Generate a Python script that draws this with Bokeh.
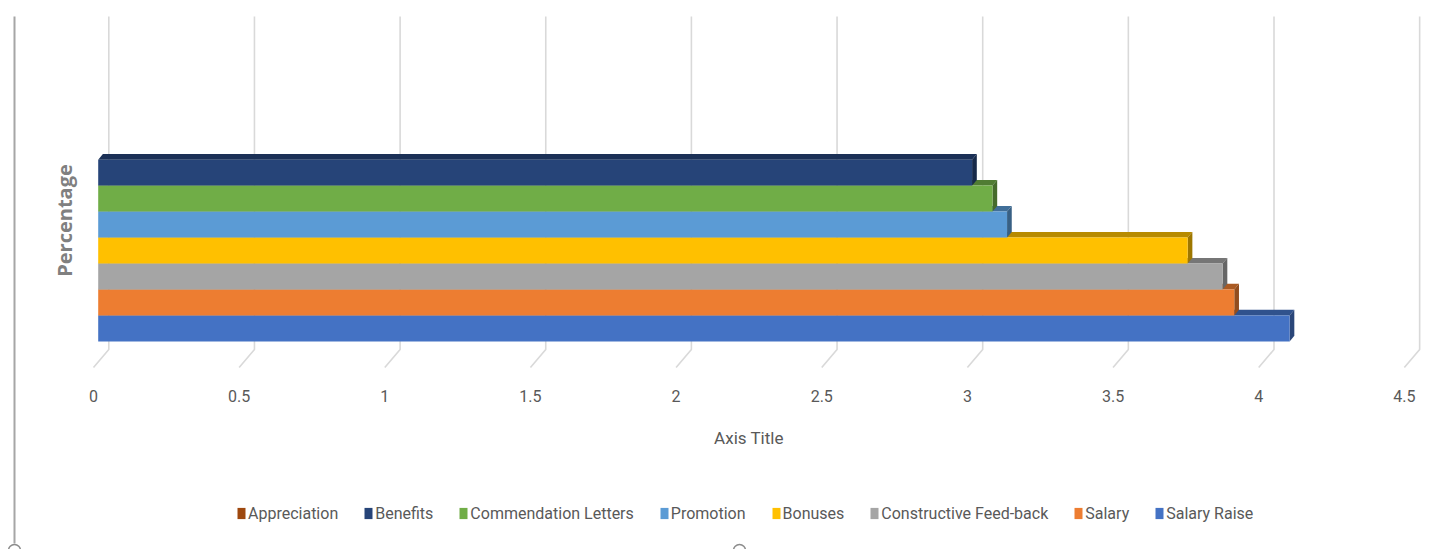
import math
from bokeh.plotting import figure
from bokeh.models import Range1d, Legend, LegendItem
from bokeh.core.properties import value
from bokeh.embed import file_html
from bokeh.resources import INLINE

# ---------------- data ----------------
series = ["Appreciation", "Benefits", "Commendation Letters", "Promotion",
          "Bonuses", "Constructive Feed-back", "Salary", "Salary Raise"]
values = [0.0, 3.00, 3.07, 3.12, 3.74, 3.86, 3.90, 4.09]
colors = ["#9E480E", "#264478", "#70AD47", "#5B9BD5",
          "#FFC000", "#A5A5A5", "#ED7D31", "#4472C4"]
ticks = [0, 0.5, 1, 1.5, 2, 2.5, 3, 3.5, 4, 4.5]
tick_labels = ["0", "0.5", "1", "1.5", "2", "2.5", "3", "3.5", "4", "4.5"]
x_title = "Axis Title"
y_title = "Percentage"

# ---------------- layout (pixels) ----------------
W, H = 1456, 549
PX_PER_UNIT = 291.3       # horizontal pixels per value unit
ZERO_PX = 97.7            # left edge of the bars' front face
ROW_PX = 25.96            # bar thickness
ROW0_PX = 327.9           # centre of the lowest bar (from top)

def dx(px):
    return px / PX_PER_UNIT

def dy(px):
    return px / ROW_PX

def xat(px):
    return (px - ZERO_PX) / PX_PER_UNIT

def yat(py):
    return (ROW0_PX - py) / ROW_PX

def shade(hex_color, f=0.75):
    h = hex_color.lstrip("#")
    r, g, b = (int(h[i:i + 2], 16) for i in (0, 2, 4))
    return "#%02x%02x%02x" % (int(r * f), int(g * f), int(b * f))

FONT_NAME = "Roboto"
FONT = value(FONT_NAME)
TEXT_COLOR = "#595959"

p = figure(width=W, height=H,
           x_range=Range1d(xat(0), xat(W)),
           y_range=Range1d(yat(H), yat(0)),
           output_backend="svg", toolbar_location=None,
           min_border=0, outline_line_color=None,
           background_fill_color="white", border_fill_color="white")
p.xaxis.visible = False
p.yaxis.visible = False
p.xgrid.visible = False
p.ygrid.visible = False

# ---------------- 3-D floor gridlines ----------------
FRONT_OFF = dx(93 - ZERO_PX)
BACK_OFF = dx(108.3 - ZERO_PX)
gx, gy = [], []
for t in ticks:
    gx.append([t + FRONT_OFF, t + BACK_OFF, t + BACK_OFF])
    gy.append([yat(367), yat(349), yat(16)])
p.multi_line(gx, gy, line_color="#D9D9D9", line_width=1.6)

# chart border line on the left + selection handles
p.segment(x0=[xat(14)], y0=[yat(16)], x1=[xat(14)], y1=[yat(543)],
          line_color="#A6A6A6", line_width=2)
p.scatter(x=[xat(14), xat(739)], y=[yat(550), yat(550)], size=12,
          fill_color="white", line_color="#8C8C8C", line_width=1.5)

# ---------------- bars ----------------
n = len(series)
rows = [n - 1 - k for k in range(n)]   # Salary Raise at the bottom
DEPTH_X = dx(4.7)
DEPTH_Y = dy(5.6)
renderers = {}
for k in sorted(range(n), key=lambda k: rows[k]):
    v = values[k]
    r = rows[k]
    c = colors[k]
    if v > 0:
        top_y = r + 0.5
        bot_y = r - 0.5
        xs = [[0, DEPTH_X, v + DEPTH_X, v],
              [v, v, v + DEPTH_X, v + DEPTH_X]]
        ys = [[top_y, top_y + DEPTH_Y, top_y + DEPTH_Y, top_y],
              [bot_y, top_y, top_y + DEPTH_Y, bot_y + DEPTH_Y]]
        p.patches(xs, ys, fill_color=[shade(c, 0.72), shade(c, 0.62)],
                  line_color=None)
    rend = p.hbar(y=[r], left=[0], right=[v], height=1.0,
                  fill_color=c, line_color=None)
    renderers[k] = rend

# ---------------- texts ----------------
p.text(x=[t + FRONT_OFF for t in ticks], y=[yat(395)] * len(ticks), text=tick_labels,
       text_align="center", text_baseline="middle",
       text_font=FONT, text_font_size="16px", text_color=TEXT_COLOR)
p.text(x=[(ticks[0] + ticks[-1]) / 2 + FRONT_OFF], y=[yat(437)], text=[x_title],
       text_align="center", text_baseline="middle",
       text_font=FONT, text_font_size="17px", text_color=TEXT_COLOR)
p.text(x=[xat(64)], y=[yat(220)], text=[y_title], angle=math.pi / 2,
       text_align="center", text_baseline="middle",
       text_font=value("Open Sans"), text_font_size="20px",
       text_font_style="bold", text_color="#808080")

# ---------------- legend ----------------
legend = Legend(items=[LegendItem(label=series[k], renderers=[renderers[k]]) for k in range(n)],
                orientation="horizontal", location=(236, H - 523),
                glyph_width=10, glyph_height=14, label_standoff=2, spacing=25,
                padding=0, margin=0, border_line_alpha=0, background_fill_alpha=0,
                label_text_font=FONT_NAME, label_text_font_size="16px",
                label_text_color=TEXT_COLOR, label_height=20)
p.add_layout(legend)

open("out.html", "w").write(file_html(p, INLINE))
